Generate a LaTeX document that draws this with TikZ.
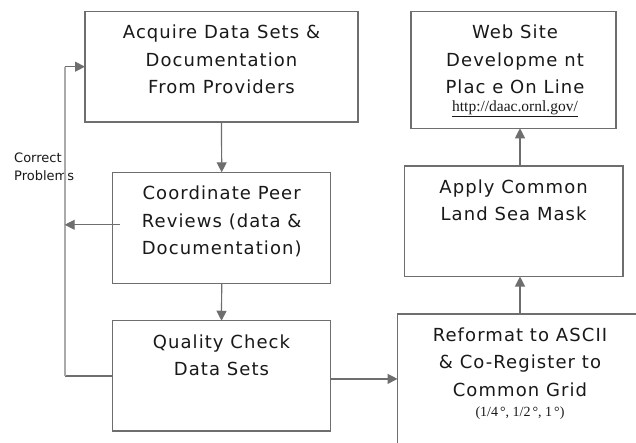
\documentclass[tikz,border=0pt]{standalone}
\usepackage{fontspec}
\setmainfont{DejaVu Sans}
\newfontfamily\boxfont{DejaVu Sans}[LetterSpace=6]
\newfontfamily\notefont{DejaVu Sans}
\newfontfamily\serifnote{Liberation Serif}
\usetikzlibrary{arrows.meta}
\definecolor{edge}{RGB}{110,110,110}
\definecolor{loopgray}{RGB}{170,170,170}
\definecolor{ink}{RGB}{25,25,25}
\begin{document}
\begin{tikzpicture}[x=1pt,y=-1pt,
  stagebox/.style={draw=edge,line width=1.2pt,fill=white,inner sep=0pt,outer sep=0pt},
  stagetext/.style={font=\boxfont\fontsize{18}{27.3}\selectfont,align=center,
    inner sep=0pt,text=ink,anchor=north},
  flow/.style={draw=edge,line width=1.2pt,-{Triangle[length=10pt,width=10pt]}},
  plainline/.style={draw=edge,line width=1.2pt},
  loopline/.style={draw=loopgray,line width=1.6pt}]
\clip (0,0) rectangle (636,443);
\fill[white] (0,0) rectangle (636,443);

% process boxes
\node[stagebox,minimum width=273pt,minimum height=110.7pt] (acq) at (221.5,66.7) {};
\node[stagebox,minimum width=218pt,minimum height=111pt] (rev) at (221.7,227.8) {};
\node[stagebox,minimum width=218.4pt,minimum height=110.3pt] (qc) at (221.5,375.9) {};
\node[stagebox,minimum width=245pt,minimum height=140pt] (ref) at (520,384) {};
\node[stagebox,minimum width=218.7pt,minimum height=110.5pt] (app) at (513.6,221.3) {};
\node[stagebox,minimum width=205pt,minimum height=117pt] (web) at (513.5,69.8) {};

% box texts
\node[stagetext] (acqtext) at (221.5,24.9) {Acquire Data Sets \&\\Documentation\\From Providers};
\node[stagetext] (revtext) at (221.7,185.9) {Coordinate Peer\\Reviews (data \&\\Documentation)};
\node[stagetext] (qctext) at (221.5,334.3) {Quality Check\\Data Sets};
\node[stagetext] (reftext) at (520,327.6) {Reformat to ASCII\\\& Co-Register to\\Common Grid};
\node[anchor=base,inner sep=0pt,text=ink,font=\serifnote\fontsize{14}{16}\selectfont]
  (grid) at (520,416.7) {(1/4\hspace{2pt}°, 1/2\hspace{2pt}°, 1\hspace{2pt}°)};
\node[stagetext] (apptext) at (513.6,179.6) {Apply Common\\Land Sea Mask};
\node[stagetext] (webtext) at (515,24.9) {Web Site\\Developme nt\\Plac e On Line};
\node[anchor=base,inner sep=0pt,text=ink,font=\serifnote\fontsize{15.5}{17}\selectfont]
  (url) at (515,111.7) {\underline{http://daac.ornl.gov/}};

% feedback label
\node[anchor=north west,inner sep=0pt,align=left,text=ink,
  font=\notefont\fontsize{13}{18.3}\selectfont] (fix) at (14,152.2) {Correct\\Problems};

% main flow
\draw[flow] (acq.south) -- (rev.north);
\draw[flow] (rev.south) -- (qc.north);
\coordinate (qcout) at ([yshift=-3pt]qc.east);
\draw[flow] (qcout) -- (qcout -| ref.west);
\draw[flow] (ref.north) -- (ref.north |- app.south);
\draw[flow] (ref.north |- app.north) -- (ref.north |- web.south);

% correction loop
\coordinate (loopx) at (64.7,0);
\draw[plainline] (qc.west) -- (qc.west -| loopx);
\draw[loopline] (qc.west -| loopx) -- (loopx |- acq.west);
\draw[flow] (loopx |- acq.west) -- (acq.west);
\coordinate (revout) at ([xshift=7pt,yshift=3pt]rev.west);
\draw[flow] (revout) -- (revout -| loopx);
\end{tikzpicture}
\end{document}
